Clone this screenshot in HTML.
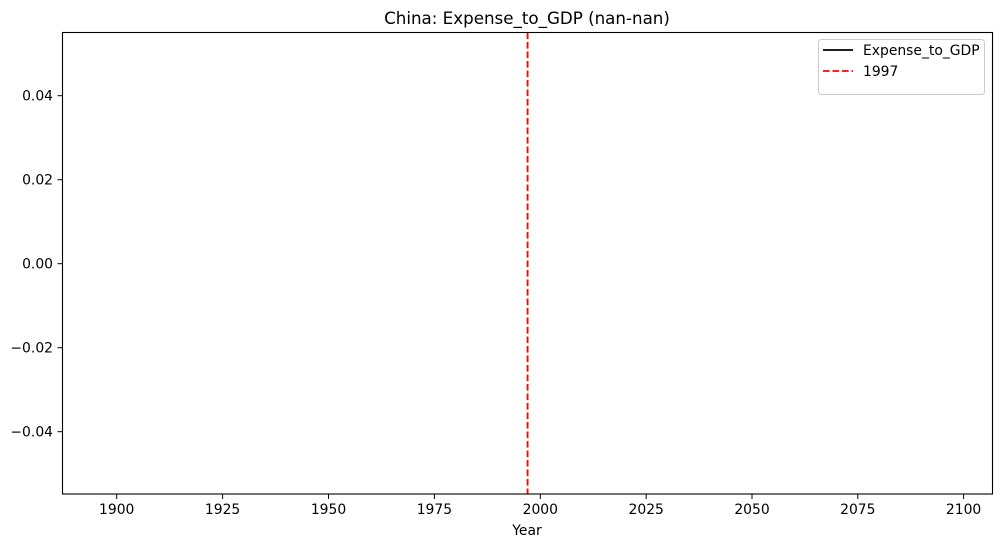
<!DOCTYPE html>
<html><head><meta charset="utf-8"><style>
body{margin:0;background:#fff}
svg{display:block;font-family:"DejaVu Sans","Liberation Sans",sans-serif}
</style></head><body>
<svg width="1001" height="547" viewBox="0 0 1001 547">
<rect width="1001" height="547" fill="#fff"/>
<text x="527" y="24" font-size="16.7" text-anchor="middle">China: Expense_to_GDP (nan-nan)</text>
<line x1="527.6" y1="32.5" x2="527.6" y2="494" stroke="#f00" stroke-width="1.8" stroke-dasharray="6.6,2.9"/>
<rect x="62.5" y="32.5" width="930" height="461.5" fill="none" stroke="#000" stroke-width="1.1"/>
<g stroke="#000" stroke-width="1">
<line x1="116.7" y1="494" x2="116.7" y2="499"/>
<line x1="222.6" y1="494" x2="222.6" y2="499"/>
<line x1="328.5" y1="494" x2="328.5" y2="499"/>
<line x1="434.4" y1="494" x2="434.4" y2="499"/>
<line x1="540.3" y1="494" x2="540.3" y2="499"/>
<line x1="646.2" y1="494" x2="646.2" y2="499"/>
<line x1="752" y1="494" x2="752" y2="499"/>
<line x1="857.8" y1="494" x2="857.8" y2="499"/>
<line x1="963.6" y1="494" x2="963.6" y2="499"/>
<line x1="57.5" y1="95.7" x2="62.5" y2="95.7"/>
<line x1="57.5" y1="179.7" x2="62.5" y2="179.7"/>
<line x1="57.5" y1="263.7" x2="62.5" y2="263.7"/>
<line x1="57.5" y1="347.7" x2="62.5" y2="347.7"/>
<line x1="57.5" y1="431.7" x2="62.5" y2="431.7"/>
</g>
<g font-size="13.9" text-anchor="middle">
<text x="116.7" y="514">1900</text>
<text x="222.6" y="514">1925</text>
<text x="328.5" y="514">1950</text>
<text x="434.4" y="514">1975</text>
<text x="540.3" y="514">2000</text>
<text x="646.2" y="514">2025</text>
<text x="752" y="514">2050</text>
<text x="857.8" y="514">2075</text>
<text x="963.6" y="514">2100</text>
<text x="527" y="535">Year</text>
</g>
<g font-size="13.9" text-anchor="end">
<text x="53" y="100.7">0.04</text>
<text x="53" y="184.7">0.02</text>
<text x="53" y="268.7">0.00</text>
<text x="53" y="352.7">−0.02</text>
<text x="53" y="436.7">−0.04</text>
</g>
<rect x="818.5" y="39.5" width="166" height="55" rx="3" fill="#fff" stroke="#ccc" stroke-width="1"/>
<line x1="823" y1="50" x2="853" y2="50" stroke="#000" stroke-width="1.8"/>
<line x1="823" y1="71" x2="853" y2="71" stroke="#f00" stroke-width="1.8" stroke-dasharray="6.6,2.9"/>
<text x="863" y="55" font-size="13.9">Expense_to_GDP</text>
<text x="863" y="76" font-size="13.9">1997</text>
</svg>
</body></html>
